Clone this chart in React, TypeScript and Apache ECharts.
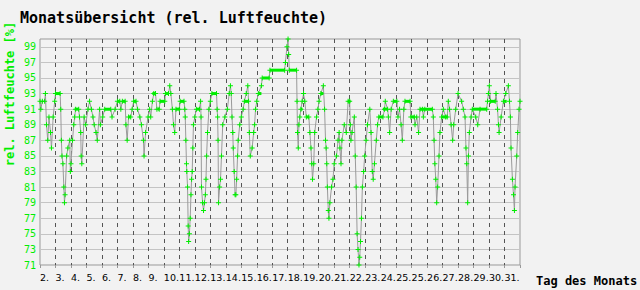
import React, { useEffect, useRef } from "react";
import * as echarts from "echarts";

const TITLE = "Monatsübersicht (rel. Luftfeuchte)";
const Y_NAME = "rel. Luftfeuchte [%]";
const X_NAME = "Tag des Monats";

// tick labels at each day boundary (0 = left edge)
const xLabels = [
  "2.", "3.", "4.", "5.", "6.", "7.", "8.", "9.", "10.", "11.", "12.", "13.", "14.", "15.",
  "16.", "17.", "18.", "19.", "20.", "21.", "22.", "23.", "24.", "25.", "25.", "26.", "27.",
  "28.", "29.", "30.", "31.",
];
const yMin = 71;
const yMax = 100;
const yStep = 2;

// readings: [day offset from left edge, rel. humidity %]
const humidityReadings: [number, number][] = [
  [0.0, 92], [0.05, 91], [0.15, 92], [0.3, 92], [0.35, 93], [0.42, 89], [0.5, 87], [0.58, 90], [0.68, 88], [0.74, 86],
  [0.85, 90], [0.95, 92], [1.0, 93], [1.3, 93], [1.34, 91], [1.38, 87], [1.42, 85], [1.48, 84], [1.54, 81], [1.58, 79],
  [1.62, 80], [1.72, 85], [1.8, 86], [1.92, 87], [1.96, 83], [2.0, 84], [2.1, 87], [2.18, 89], [2.24, 90], [2.3, 91],
  [2.5, 91], [2.55, 90], [2.63, 88], [2.66, 85], [2.7, 84], [2.85, 90], [2.95, 89], [3.1, 91], [3.2, 92], [3.32, 91],
  [3.42, 90], [3.5, 89], [3.62, 88], [3.7, 87], [3.85, 91], [3.9, 89], [4.05, 90], [4.18, 91], [4.57, 91], [4.65, 90],
  [4.85, 91], [5.0, 92], [5.15, 92], [5.22, 91], [5.32, 92], [5.5, 92], [5.55, 89], [5.63, 87], [5.72, 90], [5.86, 90],
  [5.95, 91], [6.05, 92], [6.2, 92], [6.3, 91], [6.45, 90], [6.55, 89], [6.68, 87], [6.72, 85], [6.82, 88], [6.98, 90],
  [7.08, 91], [7.15, 90], [7.26, 92], [7.35, 93], [7.46, 93], [7.55, 91], [7.7, 91], [7.75, 92], [8.06, 92], [8.1, 93],
  [8.3, 93], [8.38, 94], [8.45, 93], [8.55, 91], [8.62, 89], [8.7, 88], [8.78, 91], [9.0, 91], [9.05, 92], [9.3, 92],
  [9.35, 91], [9.38, 90], [9.42, 87], [9.46, 84], [9.48, 83], [9.53, 81], [9.57, 76], [9.6, 74], [9.65, 75], [9.7, 77],
  [9.75, 80], [9.79, 82], [9.83, 83], [9.87, 86], [9.91, 89], [10.0, 90], [10.1, 91], [10.3, 91], [10.37, 92], [10.4, 90],
  [10.43, 81], [10.5, 79], [10.56, 78], [10.62, 79], [10.68, 80], [10.72, 82], [10.76, 85], [10.82, 88], [10.91, 91], [11.0, 92],
  [11.1, 93], [11.4, 93], [11.44, 91], [11.47, 90], [11.5, 87], [11.53, 79], [11.6, 81], [11.66, 82], [11.72, 85], [11.8, 89],
  [11.94, 90], [12.1, 91], [12.22, 93], [12.3, 94], [12.35, 93], [12.4, 90], [12.45, 88], [12.48, 86], [12.54, 83], [12.6, 80],
  [12.65, 80], [12.7, 82], [12.76, 85], [12.8, 87], [12.9, 89], [13.0, 90], [13.12, 91], [13.2, 92], [13.32, 93], [13.42, 94],
  [13.47, 92], [13.52, 88], [13.58, 85], [13.7, 86], [13.8, 88], [13.86, 89], [13.92, 91], [14.0, 92], [14.1, 93], [14.3, 94],
  [14.35, 95], [14.8, 95], [14.85, 96], [15.8, 96], [15.85, 97], [15.95, 99], [16.02, 100], [16.06, 98], [16.1, 96], [16.57, 96],
  [16.6, 92], [16.63, 88], [16.68, 86], [16.72, 89], [16.78, 90], [16.85, 91], [16.93, 92], [17.02, 93], [17.1, 92], [17.2, 90],
  [17.36, 90], [17.43, 88], [17.5, 86], [17.55, 84], [17.6, 82], [17.68, 84], [17.74, 88], [17.86, 90], [17.95, 91], [18.02, 92],
  [18.14, 93], [18.3, 94], [18.38, 91], [18.44, 87], [18.48, 86], [18.52, 84], [18.56, 81], [18.62, 78], [18.66, 77], [18.72, 79],
  [18.83, 81], [18.92, 82], [19.0, 84], [19.15, 85], [19.25, 87], [19.32, 88], [19.37, 86], [19.44, 84], [19.5, 87], [19.65, 89],
  [19.78, 88], [19.9, 92], [20.0, 92], [20.04, 89], [20.08, 87], [20.15, 88], [20.3, 90], [20.36, 85], [20.42, 81], [20.48, 75],
  [20.54, 73], [20.6, 71], [20.65, 72], [20.7, 74], [20.76, 77], [20.82, 81], [20.9, 83], [20.97, 85], [21.06, 87], [21.15, 89],
  [21.3, 91], [21.38, 88], [21.46, 83], [21.52, 82], [21.6, 84], [21.72, 87], [21.8, 89], [21.88, 90], [22.15, 90], [22.25, 91],
  [22.3, 92], [22.45, 91], [22.5, 90], [22.58, 88], [22.68, 91], [22.82, 92], [23.05, 92], [23.12, 90], [23.22, 91], [23.32, 89],
  [23.4, 87], [23.5, 91], [23.57, 92], [23.9, 92], [23.95, 90], [24.17, 90], [24.22, 89], [24.33, 90], [24.45, 88], [24.54, 91],
  [24.7, 91], [24.76, 90], [24.85, 91], [25.34, 91], [25.4, 90], [25.45, 87], [25.5, 84], [25.56, 82], [25.62, 79], [25.68, 81],
  [25.77, 85], [25.83, 88], [25.94, 90], [26.05, 91], [26.2, 90], [26.3, 90], [26.37, 92], [26.45, 91], [26.55, 89], [26.65, 87],
  [26.72, 89], [26.85, 91], [27.0, 93], [27.23, 92], [27.34, 91], [27.45, 90], [27.51, 86], [27.56, 84], [27.62, 79], [27.67, 85],
  [27.73, 88], [27.84, 90], [27.92, 91], [28.14, 90], [28.27, 89], [28.42, 91], [28.85, 91], [28.9, 92], [28.96, 93], [29.02, 94],
  [29.1, 92], [29.4, 92], [29.45, 93], [29.55, 91], [29.61, 89], [29.65, 88], [29.78, 90], [29.93, 92], [30.08, 93], [30.25, 94],
  [30.32, 92], [30.38, 90], [30.42, 86], [30.51, 82], [30.58, 80], [30.64, 78], [30.68, 81], [30.79, 85], [30.85, 88], [30.94, 91],
  [31.0, 92],
];

// stretches where the value held steady (drawn as dense marker bars)
const plateauStart = [1.0, 2.24, 4.18, 5.0, 5.32, 5.72, 6.05, 7.26, 7.6, 7.75, 8.1, 8.78, 9.05, 10.1, 11.1, 13.2, 14.1, 14.35, 14.85, 16.1, 16.85, 17.2, 18.14, 19.9, 21.88, 22.15, 22.82, 23.57, 23.95, 24.54, 25.94, 27.92, 29.02, 29.93];
const plateauEnd = [1.3, 2.5, 4.57, 5.15, 5.5, 5.86, 6.2, 7.46, 7.7, 8.06, 8.3, 9.05, 9.3, 10.3, 11.4, 13.45, 14.3, 14.8, 15.8, 16.57, 16.95, 17.36, 18.3, 20.05, 22.15, 22.45, 23.05, 23.9, 24.2, 25.34, 26.3, 28.85, 29.4, 30.14];
const plateauValue = [93, 91, 91, 92, 92, 90, 92, 93, 91, 92, 93, 91, 92, 91, 93, 92, 93, 95, 96, 96, 91, 90, 93, 92, 90, 91, 92, 92, 90, 91, 90, 91, 92, 92];

const GREEN = "#00ee00";
const MONO = '"DejaVu Sans Mono", "Liberation Mono", monospace';
const PLUS = "path://M2,0H3V5H2Z M0,2H5V3H0Z";

export default function App() {
  const ref = useRef<HTMLDivElement>(null);
  useEffect(() => {
    if (!ref.current) return;
    const chart = echarts.init(ref.current, undefined, { renderer: "svg" });
    const plateaus = plateauStart.map((s, i) => [s, plateauEnd[i], plateauValue[i]]);
    chart.setOption({
      animation: false,
      backgroundColor: "#f2f2f2",
      grid: {
        left: 40, top: 39, width: 480, height: 226,
        show: true, borderColor: "#999", borderWidth: 1, backgroundColor: "transparent",
        outerBoundsMode: "none",
      },
      xAxis: {
        type: "value", min: 0, max: 31, interval: 1,
        axisLine: { show: false },
        axisTick: { show: true, length: 3, lineStyle: { color: "#999" } },
        axisLabel: {
          formatter: (v: number) => {
            const i = Math.round(v);
            return Math.abs(v - i) < 1e-6 && xLabels[i] ? xLabels[i] : "";
          },
          align: "left", margin: 7, fontSize: 9.5, fontFamily: '"DejaVu Sans", sans-serif', color: "#000",
        },
        splitLine: {
          show: true, showMinLine: false, showMaxLine: false,
          lineStyle: { color: "#555", type: [4, 4], width: 1 },
        },
      },
      yAxis: {
        type: "value", min: yMin, max: yMax, interval: yStep,
        axisLine: { show: false },
        axisTick: { show: false },
        axisLabel: {
          formatter: (v: number) => (Number.isInteger(v) && v < yMax ? String(v) : ""),
          margin: 4, fontSize: 10, fontFamily: MONO, color: GREEN,
        },
        splitLine: {
          show: true, showMinLine: false, showMaxLine: false,
          lineStyle: { color: "#c4c4c4", width: 1 },
        },
      },
      series: [
        {
          type: "line",
          data: humidityReadings,
          clip: false,
          showAllSymbol: true,
          symbol: PLUS,
          symbolSize: 5,
          lineStyle: { color: "#9a9a9a", width: 1 },
          itemStyle: { color: GREEN },
          z: 2,
        },
        {
          type: "custom",
          data: plateaus,
          encode: { x: [0, 1], y: 2 },
          z: 3,
          renderItem: (params: any, api: any) => {
            const a = api.coord([api.value(0), api.value(2)]);
            const b = api.coord([api.value(1), api.value(2)]);
            return {
              type: "rect",
              shape: { x: a[0], y: a[1] - 1.5, width: b[0] - a[0], height: 3 },
              style: { fill: GREEN },
            };
          },
        },
      ],
      graphic: [
        {
          type: "text", x: 20, y: 18,
          style: { text: TITLE, font: `bold 15px ${MONO}`, fill: "#000", align: "left", verticalAlign: "middle", textAlign: "left", textVerticalAlign: "middle" },
        },
        {
          type: "text", x: 10, y: 94, rotation: Math.PI / 2,
          style: { text: Y_NAME, font: `bold 12px ${MONO}`, fill: GREEN, align: "center", verticalAlign: "middle", textAlign: "center", textVerticalAlign: "middle" },
        },
        {
          type: "text", x: 536, y: 281,
          style: { text: X_NAME, font: `bold 12px ${MONO}`, fill: "#000", align: "left", verticalAlign: "middle", textAlign: "left", textVerticalAlign: "middle" },
        },
      ],
    });
    return () => chart.dispose();
  }, []);
  return (
    <div
      ref={ref}
      style={{ position: "absolute", left: 0, top: 0, width: 640, height: 290 }}
    />
  );
}
